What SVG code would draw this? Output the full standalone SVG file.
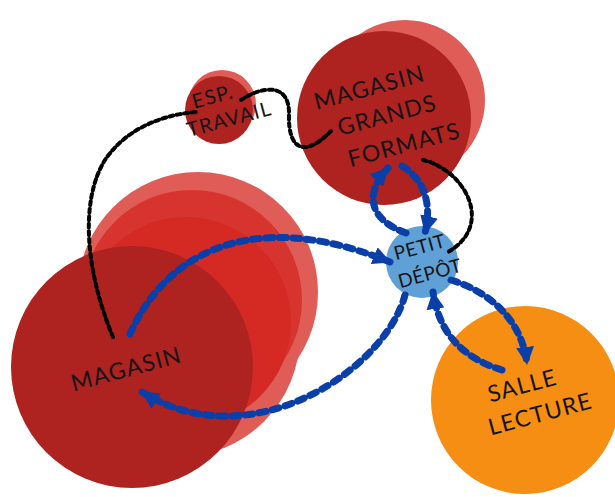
<svg xmlns="http://www.w3.org/2000/svg" width="615" height="497" viewBox="0 0 615 497">
<style>
.lbl{font-family:Lato,"Noto Sans","Liberation Sans",sans-serif;fill:#141414;text-anchor:middle;dominant-baseline:central;letter-spacing:1.2px}
.big{font-size:23px}
.med{font-size:20px}
.sm{font-size:19px;letter-spacing:0.5px}
.blk{fill:none;stroke:#000;stroke-width:4;stroke-linecap:round;stroke-dasharray:4 3.5}
.blu{fill:none;stroke:#0a3ea8;stroke-width:7;stroke-linecap:round;stroke-dasharray:7 6.5}
.dark{fill:#ae2220}
.light{fill:#e05c57}
</style>
<defs>
<marker id="ah" markerUnits="userSpaceOnUse" markerWidth="20" markerHeight="18" refX="17" refY="9" orient="auto">
<path d="M0,0 L18,9 L0,18 Z" fill="#0a3ea8"/>
</marker>
</defs>
<g id="node-magasin">
<circle class="light" cx="198" cy="292" r="120"/>
<circle class="light" cx="178" cy="335" r="122"/>
<circle fill="#d8342f" cx="192" cy="300" r="110"/>
<circle fill="#d42a23" cx="186" cy="322" r="105"/>
<circle class="dark" cx="132" cy="367" r="121"/>
<text class="lbl big" x="126" y="368" transform="rotate(-15 126 368)">MAGASIN</text>
</g>
<g id="node-esp-travail">
<circle class="light" cx="222" cy="104" r="34"/>
<circle class="dark" cx="219" cy="110" r="34"/>
<text class="lbl med" transform="rotate(-15 220 108)"><tspan x="216" y="94">ESP.</tspan><tspan x="226" y="120">TRAVAIL</tspan></text>
</g>
<g id="node-magasin-grands-formats">
<circle class="light" cx="405" cy="100" r="80"/>
<circle class="dark" cx="384" cy="118" r="87"/>
<text class="lbl big" transform="rotate(-15 387 115)"><tspan x="377" y="83">MAGASIN</tspan><tspan x="387" y="114">GRANDS</tspan><tspan x="396" y="147">FORMATS</tspan></text>
</g>
<g id="node-petit-depot">
<circle fill="#5fa0d6" cx="422" cy="262" r="36"/>
<text class="lbl sm" transform="rotate(-15 424 259)"><tspan x="423" y="245">PETIT</tspan><tspan x="426" y="273">DÉPÔT</tspan></text>
</g>
<g id="node-salle-lecture">
<circle fill="#f78e14" cx="525" cy="400" r="94"/>
<text class="lbl big" transform="rotate(-15 530 399)"><tspan x="526" y="383">SALLE</tspan><tspan x="536" y="415">LECTURE</tspan></text>
</g>
<g id="connectors">
<path class="blk" d="M113,337 C85,270 80,200 105,160 C125,130 160,115 196,112"/>
<path class="blk" d="M241,100 C262,86 290,82 289,115 C288,150 305,158 331,131"/>
<path class="blk" d="M423,160 C465,170 495,225 448,252"/>
<path class="blu" marker-end="url(#ah)" d="M130,334 C165,255 250,205 390,262"/>
<path class="blu" marker-end="url(#ah)" d="M405,295 C385,370 250,460 142,392"/>
<path class="blu" marker-end="url(#ah)" d="M406,233 C370,220 363,195 388,168"/>
<path class="blu" marker-end="url(#ah)" d="M402,166 C425,180 432,205 425,233"/>
<path class="blu" marker-end="url(#ah)" d="M451,280 C490,292 522,320 527,364"/>
<path class="blu" marker-end="url(#ah)" d="M502,370 C470,360 440,340 433,292"/>
</g>
</svg>
